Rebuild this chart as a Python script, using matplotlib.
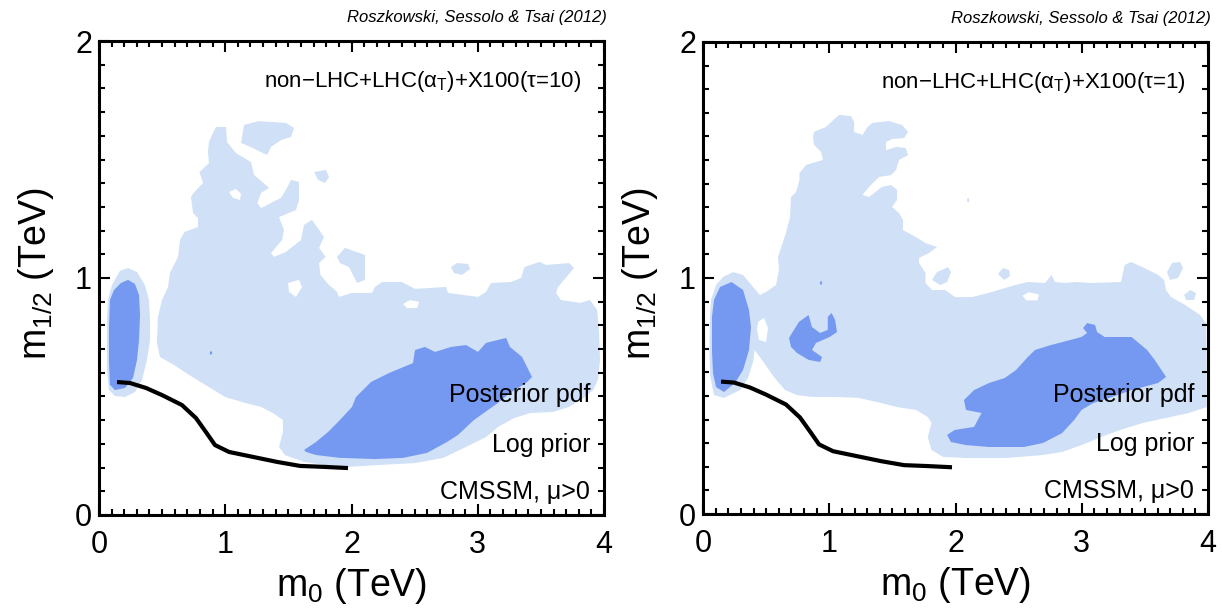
import numpy as np
import matplotlib.pyplot as plt

plt.rcParams['font.family'] = ['Liberation Sans', 'DejaVu Sans']
plt.rcParams['mathtext.fontset'] = 'custom'
plt.rcParams['mathtext.rm'] = 'Liberation Sans'
plt.rcParams['mathtext.it'] = 'Liberation Sans:italic'

LIGHT = '#cfe0f7'
DARK = '#7598f0'

# m0 (TeV), m1/2 (TeV) of the excluded-region boundary, same in both panels
line_m0 = [0.143, 0.245, 0.372, 0.499, 0.657, 0.768, 0.847, 0.919, 1.030, 1.220, 1.410, 1.592, 1.782, 1.972]
line_m12 = [0.561, 0.557, 0.536, 0.506, 0.464, 0.409, 0.350, 0.295, 0.266, 0.245, 0.224, 0.207, 0.203, 0.198]

# ---- tau = 10 panel ----
t10_light = [(0.483, 0.667), (0.459, 0.726), (0.467, 0.835), (0.499, 0.907), (0.547, 0.962), (0.562, 1.021),
             (0.626, 1.089), (0.642, 1.160), (0.677, 1.194), (0.784, 1.215), (0.784, 1.253), (0.745, 1.274),
             (0.729, 1.342), (0.756, 1.363), (0.824, 1.401), (0.796, 1.447), (0.871, 1.485), (0.863, 1.532),
             (0.871, 1.574), (0.903, 1.612), (0.927, 1.637), (1.006, 1.637), (1.014, 1.574), (1.085, 1.527),
             (1.204, 1.489), (1.228, 1.435), (1.347, 1.380), (1.283, 1.359), (1.255, 1.316), (1.283, 1.295),
             (1.442, 1.338), (1.489, 1.380), (1.521, 1.414), (1.584, 1.405), (1.584, 1.329), (1.560, 1.287),
             (1.426, 1.257), (1.465, 1.203), (1.450, 1.160), (1.362, 1.105), (1.386, 1.089), (1.481, 1.110),
             (1.600, 1.160), (1.624, 1.224), (1.687, 1.245), (1.782, 1.173), (1.743, 1.127), (1.794, 1.089),
             (1.743, 1.063), (1.754, 1.013), (1.806, 0.979), (1.885, 0.941), (1.901, 0.920), (2.004, 0.937),
             (2.162, 0.937), (2.186, 0.962), (2.242, 0.983), (2.400, 0.983), (2.503, 0.954), (2.749, 0.962),
             (2.764, 0.937), (3.002, 0.920), (3.065, 0.941), (3.105, 0.979), (3.263, 0.983), (3.343, 1.000),
             (3.370, 1.046), (3.489, 1.068), (3.541, 1.055), (3.723, 1.063), (3.762, 1.042), (3.636, 0.962),
             (3.620, 0.937), (3.659, 0.907), (3.810, 0.895), (3.889, 0.907), (3.945, 0.865), (3.960, 0.781),
             (3.968, 0.654), (3.952, 0.570), (3.913, 0.527), (3.850, 0.498), (3.723, 0.456), (3.596, 0.435),
             (3.414, 0.430), (3.287, 0.409), (3.160, 0.371), (3.065, 0.329), (2.907, 0.287), (2.725, 0.241),
             (2.503, 0.219), (2.218, 0.211), (1.972, 0.203), (1.782, 0.211), (1.624, 0.224), (1.473, 0.253),
             (1.426, 0.287), (1.457, 0.350), (1.457, 0.401), (1.378, 0.430), (1.283, 0.456), (1.156, 0.473),
             (0.998, 0.498), (0.871, 0.540), (0.752, 0.578), (0.594, 0.633)]
t10_light_ellipse = [(0.071, 0.907), (0.103, 0.970), (0.166, 1.030), (0.230, 1.042), (0.301, 1.025), (0.364, 0.970),
                     (0.396, 0.907), (0.404, 0.823), (0.404, 0.738), (0.380, 0.654), (0.341, 0.570), (0.285, 0.519),
                     (0.206, 0.498), (0.127, 0.502), (0.079, 0.527), (0.063, 0.612), (0.063, 0.738), (0.063, 0.823)]
t10_islands = [
    [(1.125, 1.570), (1.149, 1.646), (1.267, 1.662), (1.481, 1.654), (1.545, 1.633), (1.521, 1.595),
     (1.442, 1.582), (1.362, 1.553), (1.331, 1.519), (1.216, 1.549)],
    [(1.703, 1.447), (1.798, 1.456), (1.822, 1.426), (1.790, 1.401), (1.735, 1.414)],
    [(1.885, 1.089), (1.948, 1.127), (2.107, 1.097), (2.107, 0.992), (2.044, 0.979), (1.980, 1.046), (1.909, 1.063)],
    [(2.788, 1.046), (2.836, 1.063), (2.923, 1.059), (2.939, 1.038), (2.875, 1.013), (2.812, 1.021)],
]
t10_holes = [
    [(1.030, 1.363), (1.085, 1.376), (1.125, 1.355), (1.117, 1.329), (1.061, 1.338)],
    [(1.497, 0.979), (1.584, 0.992), (1.608, 0.962), (1.560, 0.920), (1.505, 0.941)],
    [(2.408, 0.890), (2.463, 0.907), (2.535, 0.899), (2.519, 0.873), (2.440, 0.873)],
]
t10_dark = [
    [(0.087, 0.907), (0.119, 0.949), (0.174, 0.979), (0.230, 0.992), (0.285, 0.975), (0.317, 0.928),
     (0.325, 0.844), (0.317, 0.738), (0.301, 0.654), (0.269, 0.578), (0.206, 0.536), (0.127, 0.527),
     (0.087, 0.549), (0.079, 0.654), (0.079, 0.781)],
    [(1.624, 0.274), (1.719, 0.308), (1.814, 0.350), (1.909, 0.401), (2.004, 0.456), (2.036, 0.498),
     (2.154, 0.561), (2.297, 0.599), (2.487, 0.641), (2.503, 0.696), (2.582, 0.709), (2.661, 0.688),
     (2.788, 0.709), (2.907, 0.717), (3.002, 0.688), (3.065, 0.726), (3.224, 0.747), (3.255, 0.709),
     (3.350, 0.667), (3.430, 0.582), (3.382, 0.557), (3.255, 0.515), (3.160, 0.473), (2.970, 0.401),
     (2.844, 0.338), (2.756, 0.308), (2.598, 0.262), (2.408, 0.241), (2.186, 0.236), (1.909, 0.241),
     (1.719, 0.253), (1.640, 0.266)],
    [(0.877, 0.684), (0.887, 0.694), (0.897, 0.684), (0.887, 0.674)],
]

# ---- tau = 1 panel ----
t1_light = [(0.055, 0.589), (0.051, 0.695), (0.055, 0.835), (0.063, 0.907), (0.103, 0.970), (0.158, 1.004),
            (0.238, 1.025), (0.317, 1.013), (0.396, 0.962), (0.451, 0.928), (0.499, 0.941), (0.578, 0.970),
            (0.602, 1.034), (0.594, 1.089), (0.657, 1.191), (0.689, 1.258), (0.697, 1.343), (0.737, 1.364),
            (0.764, 1.415), (0.764, 1.445), (0.816, 1.479), (0.950, 1.500), (0.935, 1.534), (0.879, 1.564),
            (0.871, 1.597), (0.879, 1.619), (0.974, 1.640), (1.077, 1.691), (1.172, 1.686), (1.196, 1.661),
            (1.196, 1.619), (1.263, 1.606), (1.303, 1.640), (1.343, 1.657), (1.473, 1.665), (1.576, 1.648),
            (1.624, 1.619), (1.592, 1.593), (1.497, 1.589), (1.450, 1.576), (1.450, 1.542), (1.529, 1.555),
            (1.605, 1.551), (1.624, 1.521), (1.552, 1.500), (1.529, 1.458), (1.489, 1.436), (1.394, 1.428),
            (1.315, 1.386), (1.263, 1.352), (1.315, 1.343), (1.418, 1.386), (1.489, 1.394), (1.537, 1.373),
            (1.537, 1.331), (1.497, 1.301), (1.552, 1.275), (1.584, 1.246), (1.584, 1.203), (1.684, 1.174),
            (1.762, 1.148), (1.853, 1.131), (1.790, 1.106), (1.711, 1.085), (1.711, 1.064), (1.762, 1.021),
            (1.762, 0.979), (1.814, 0.949), (1.917, 0.949), (1.996, 0.919), (2.131, 0.919), (2.289, 0.941),
            (2.471, 0.970), (2.574, 0.983), (2.709, 0.979), (2.761, 1.013), (2.788, 0.983), (2.867, 0.979),
            (2.946, 0.983), (3.073, 0.979), (3.311, 0.983), (3.339, 1.055), (3.390, 1.068), (3.497, 1.042),
            (3.604, 1.013), (3.651, 0.992), (3.667, 0.949), (3.707, 0.919), (3.818, 0.886), (3.937, 0.843),
            (3.984, 0.809), (3.988, 0.653), (3.988, 0.453), (3.849, 0.428), (3.667, 0.407), (3.485, 0.386),
            (3.303, 0.356), (3.152, 0.326), (2.998, 0.292), (2.844, 0.263), (2.693, 0.250), (2.392, 0.237),
            (2.083, 0.237), (1.901, 0.242), (1.810, 0.271), (1.780, 0.326), (1.810, 0.386), (1.780, 0.411),
            (1.687, 0.441), (1.537, 0.453), (1.414, 0.470), (1.232, 0.492), (1.046, 0.496), (0.863, 0.496),
            (0.745, 0.504), (0.650, 0.525), (0.562, 0.580), (0.467, 0.653), (0.409, 0.695), (0.396, 0.644),
            (0.356, 0.576), (0.293, 0.525), (0.166, 0.492), (0.087, 0.504)]
t1_islands = [
    [(1.814, 0.992), (1.853, 1.025), (1.941, 1.046), (1.964, 1.025), (1.933, 0.983), (1.877, 0.970)],
    [(2.337, 1.017), (2.376, 1.042), (2.424, 1.034), (2.432, 1.008), (2.384, 0.992)],
    [(3.675, 1.025), (3.715, 1.064), (3.778, 1.068), (3.802, 1.042), (3.762, 1.000), (3.699, 0.992)],
    [(3.810, 0.928), (3.858, 0.949), (3.905, 0.936), (3.889, 0.907), (3.826, 0.907)],
    [(2.090, 1.330), (2.100, 1.342), (2.110, 1.330), (2.100, 1.318)],
]
t1_holes = [
    [(0.436, 0.814), (0.483, 0.831), (0.515, 0.788), (0.499, 0.729), (0.444, 0.737), (0.428, 0.780)],
    [(2.530, 0.925), (2.580, 0.940), (2.660, 0.930), (2.650, 0.905), (2.560, 0.905)],
]
t1_dark = [
    [(0.103, 0.538), (0.166, 0.517), (0.253, 0.555), (0.317, 0.610), (0.364, 0.695), (0.380, 0.792),
     (0.364, 0.864), (0.317, 0.949), (0.226, 0.983), (0.135, 0.962), (0.087, 0.907), (0.071, 0.835),
     (0.071, 0.695), (0.079, 0.597)],
    [(0.681, 0.746), (0.760, 0.814), (0.836, 0.843), (0.863, 0.792), (0.927, 0.767), (0.988, 0.780),
     (0.988, 0.835), (1.018, 0.852), (1.046, 0.822), (1.061, 0.771), (1.003, 0.750), (0.895, 0.725),
     (0.863, 0.695), (0.943, 0.665), (0.927, 0.644), (0.836, 0.653), (0.745, 0.682), (0.697, 0.708)],
    [(1.933, 0.335), (1.993, 0.356), (2.147, 0.369), (2.206, 0.428), (2.083, 0.441), (2.067, 0.483),
     (2.147, 0.525), (2.265, 0.555), (2.389, 0.576), (2.479, 0.610), (2.572, 0.665), (2.630, 0.695),
     (2.756, 0.716), (2.907, 0.737), (2.998, 0.750), (3.042, 0.767), (3.010, 0.788), (3.042, 0.809),
     (3.105, 0.801), (3.121, 0.771), (3.181, 0.750), (3.394, 0.750), (3.517, 0.695), (3.577, 0.653),
     (3.667, 0.581), (3.604, 0.555), (3.394, 0.525), (3.240, 0.496), (3.089, 0.470), (2.998, 0.441),
     (2.939, 0.398), (2.844, 0.343), (2.693, 0.301), (2.543, 0.284), (2.265, 0.284), (2.083, 0.292),
     (1.964, 0.305)],
    [(0.925, 0.979), (0.935, 0.989), (0.945, 0.979), (0.935, 0.969)],
]

panels = [
    (r'non−LHC+LHC(α$_\mathregular{T}$)+X100(τ=10)', [t10_light, t10_light_ellipse] + t10_islands, t10_holes, t10_dark),
    (r'non−LHC+LHC(α$_\mathregular{T}$)+X100(τ=1)', [t1_light] + t1_islands, t1_holes, t1_dark),
]
boxes = [[0.0810, 0.1599, 0.4133, 0.7732], [0.5753, 0.1615, 0.4133, 0.7700]]


def fill(ax, pts, color):
    xs, ys = zip(*pts)
    ax.fill(xs, ys, color=color, lw=0)


fig = plt.figure(figsize=(12.22, 6.13), dpi=100)
for box, (title, lights, holes, darks) in zip(boxes, panels):
    ax = fig.add_axes(box)
    for poly in lights:
        fill(ax, poly, LIGHT)
    for poly in holes:
        fill(ax, poly, 'white')
    for poly in darks:
        fill(ax, poly, DARK)
    ax.plot(line_m0, line_m12, color='black', lw=3, solid_capstyle='butt')

    ax.set_xlim(0, 4)
    ax.set_ylim(0, 2)
    ax.set_xticks([0, 1, 2, 3, 4])
    ax.set_yticks([0, 1, 2])
    ax.set_xticks(np.arange(0, 4.01, 0.1), minor=True)
    ax.set_yticks(np.arange(0, 2.01, 0.1), minor=True)
    ax.tick_params(which='both', direction='in', top=True, right=True, width=1.5)
    ax.tick_params(which='major', length=8, labelsize=22)
    ax.tick_params(which='minor', length=4)
    ax.tick_params(axis='x', pad=11)
    ax.tick_params(axis='y', pad=5)
    for s in ax.spines.values():
        s.set_linewidth(2.2)

    ax.set_xlabel(r'm$_\mathregular{0}$ (TeV)', fontsize=27)
    ax.set_ylabel(r'm$_\mathregular{1/2}$ (TeV)', fontsize=27)
    ax.xaxis.set_label_coords(0.5, -0.108)
    ax.yaxis.set_label_coords(-0.085, 0.51)

    ax.text(3.82, 1.83, title, fontsize=16, ha='right', va='center')
    ax.text(3.89, 0.505, 'Posterior pdf', fontsize=18, ha='right', va='center')
    ax.text(3.89, 0.295, 'Log prior', fontsize=18, ha='right', va='center')
    ax.text(3.89, 0.096, 'CMSSM, μ>0', fontsize=18, ha='right', va='center')
    ax.text(1.006, 1.049, 'Roszkowski, Sessolo & Tsai (2012)', fontsize=12, style='italic',
            ha='right', va='center', transform=ax.transAxes)

fig.savefig('out.png', dpi=100)
